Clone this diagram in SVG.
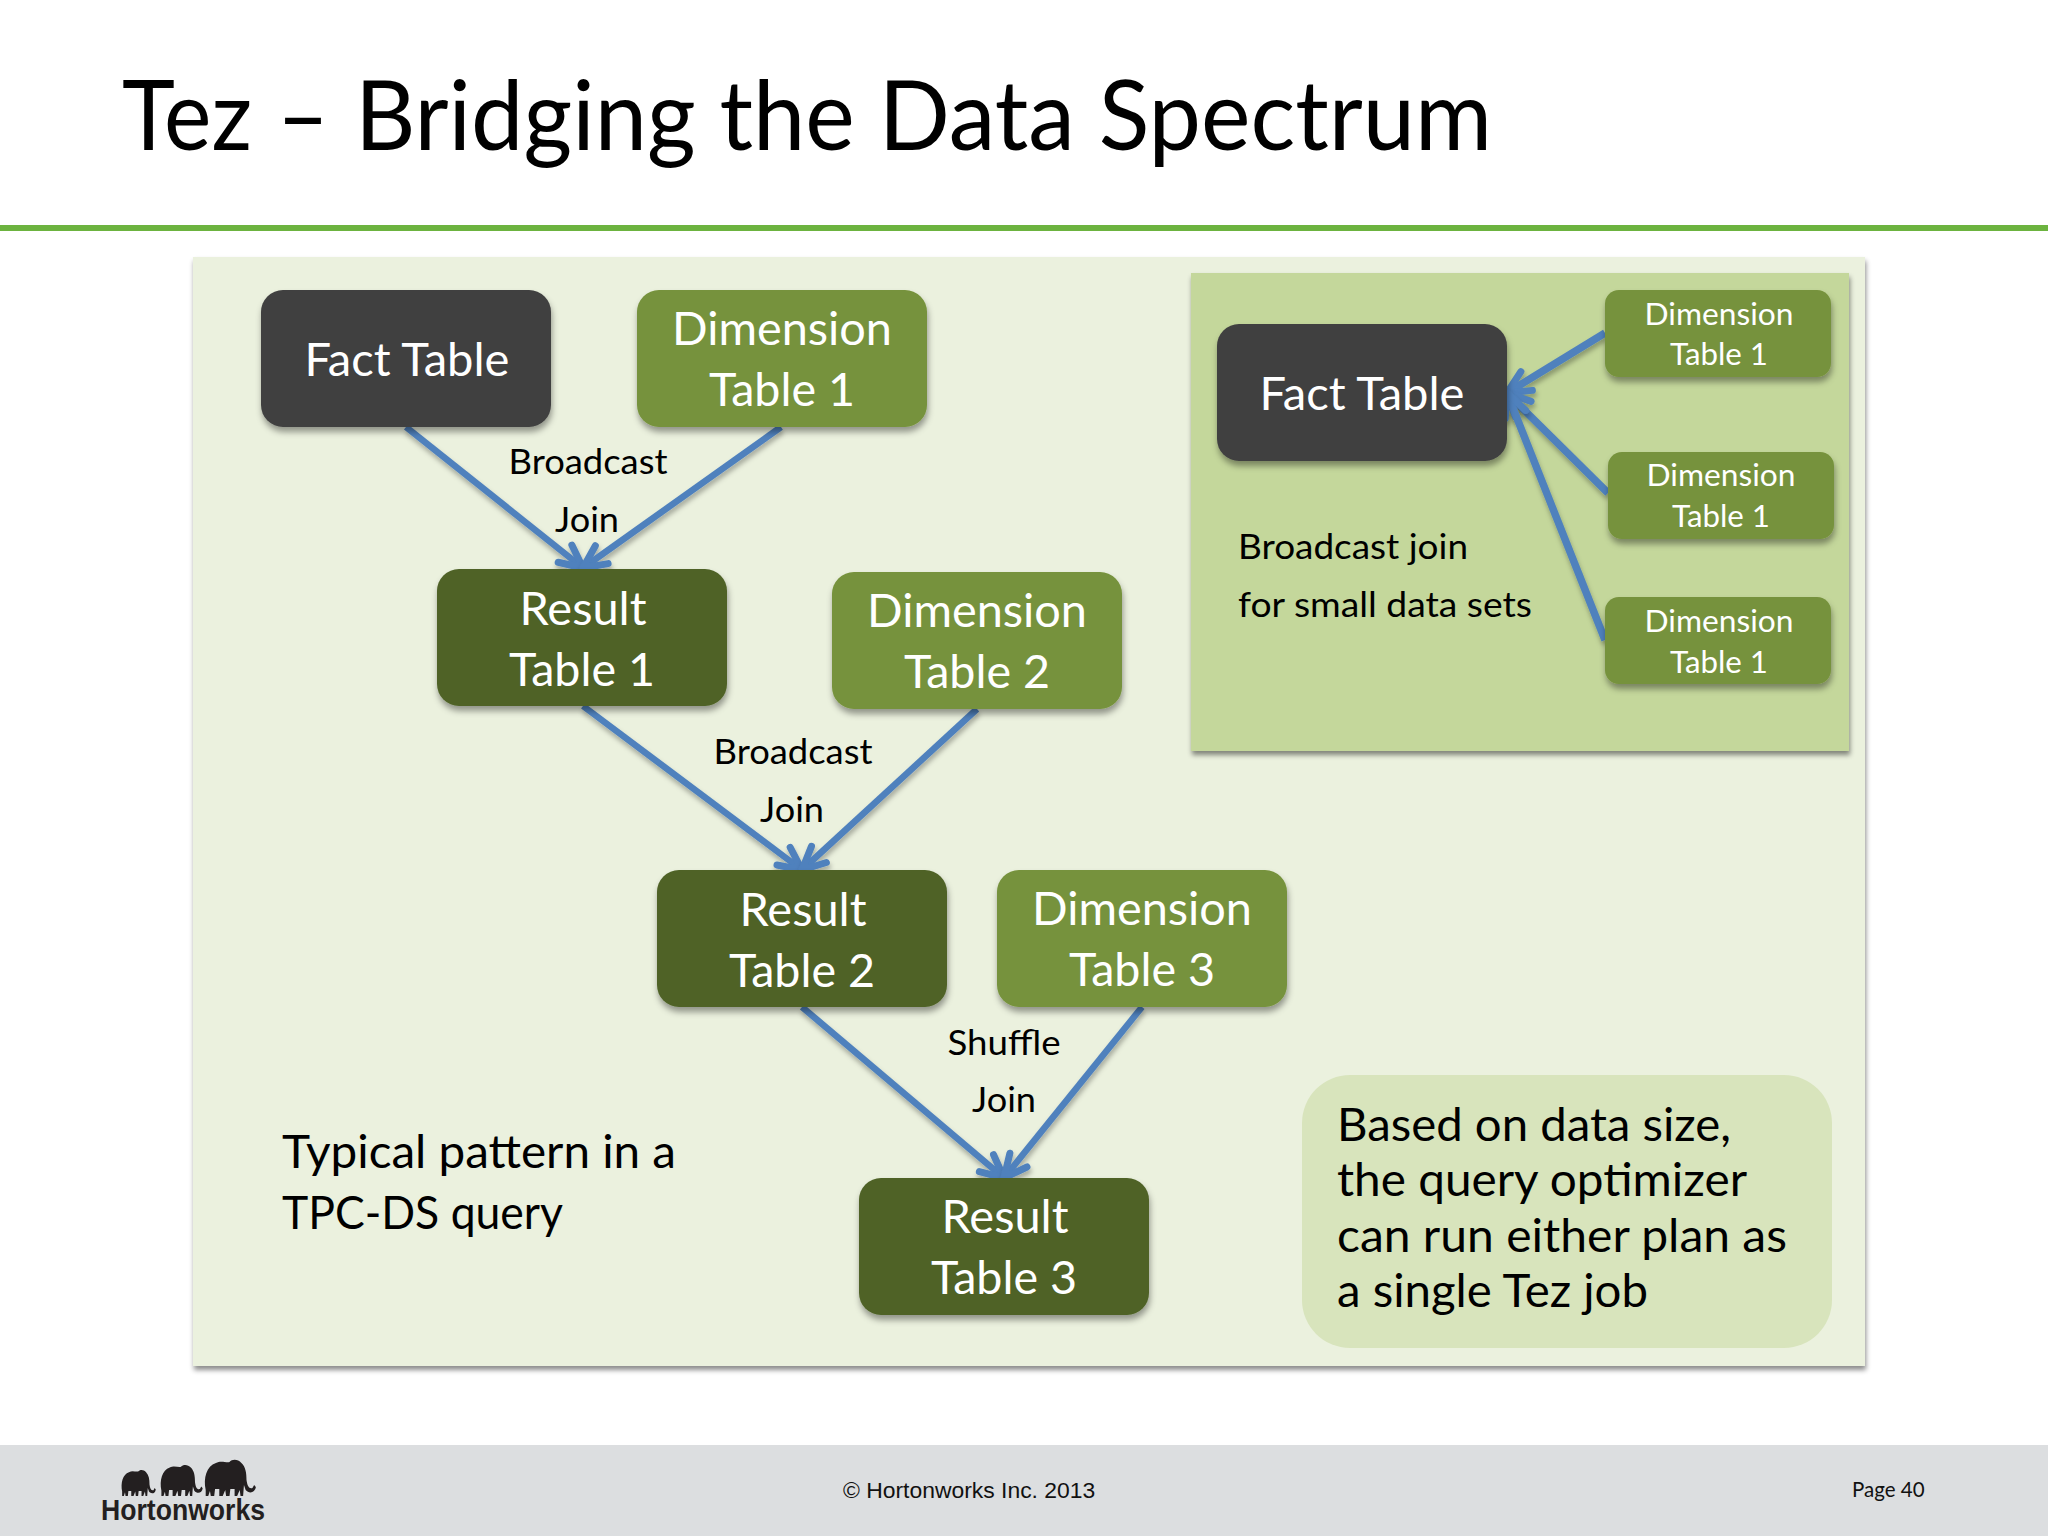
<svg xmlns="http://www.w3.org/2000/svg" xmlns:xlink="http://www.w3.org/1999/xlink" width="2048" height="1536" viewBox="0 0 2048 1536">
<style>
text{font-family:"Lato","Carlito","Open Sans",sans-serif}
.c{text-anchor:middle}
.w{fill:#fff}
.k{fill:#000}
.big{font-size:45.5px}
.mid{font-size:34.5px}
.sm{font-size:30.5px}
.fact{fill:#404040}
.dim{fill:#76923c}
.res{fill:#4f6228}
.edge{fill:none;stroke:#4f81bd;stroke-width:6.5;marker-end:url(#arrow)}
.thick{stroke-width:7.5}
</style>
<defs>
<filter id="sh" x="-10%" y="-10%" width="120%" height="125%"><feDropShadow dx="1" dy="5" stdDeviation="3" flood-color="#000" flood-opacity="0.38"/></filter>
<filter id="lsh" x="-15%" y="-15%" width="130%" height="130%"><feDropShadow dx="1" dy="4" stdDeviation="2.5" flood-color="#000" flood-opacity="0.3"/></filter>
<filter id="panel" x="-2%" y="-2%" width="104%" height="104%"><feDropShadow dx="1" dy="4" stdDeviation="2.5" flood-color="#000" flood-opacity="0.45"/></filter>
<marker id="arrow" markerUnits="userSpaceOnUse" viewBox="-32 -20 36 40" refX="0" refY="0" markerWidth="36" markerHeight="40" orient="auto">
<path d="M-23 -11 L0 0 L-23 11" fill="none" stroke="#4f81bd" stroke-width="7" stroke-linecap="round" stroke-linejoin="round"/>
</marker>
<path id="eleph" d="M2 30 C-1 18 3 6 14 3 C20 0 26 3 30 2 C33 -1 40 -1 44 3 C49 7 50 13 50 20 C51 26 53 29 57 28 L59 25 L61 27 C60 33 53 34 49 30 L47 25 L46 36 L43 36 L42 30 L39 36 L36 36 L36 29 L31 29 L30 36 L26 36 L25 30 L22 36 L18 36 L18 29 L13 29 L12 36 L8 36 L7 31 L5 36 L2 36 Z"/>
</defs>
<rect width="2048" height="1536" fill="#fff"/>
<g id="title"><text y="150" font-size="96px" fill="#000" lengthAdjust="spacingAndGlyphs"><tspan x="122" textLength="130" lengthAdjust="spacingAndGlyphs">Tez</tspan> <tspan x="277" textLength="52" lengthAdjust="spacingAndGlyphs">–</tspan> <tspan x="355" textLength="1137" lengthAdjust="spacingAndGlyphs">Bridging the Data Spectrum</tspan></text></g>
<rect id="rule" x="0" y="225" width="2048" height="6" fill="#6cb33f"/>
<rect id="panel-main" x="193" y="257" width="1672" height="1109" fill="#ebf1de" filter="url(#panel)"/>
<rect id="panel-inset" x="1191" y="273" width="658" height="478" fill="#c4d79b" filter="url(#panel)"/>
<g id="footer">
<rect x="0" y="1445" width="2048" height="91" fill="#dcdee0"/>
<g id="logo" fill="#231f20">
<use xlink:href="#eleph" transform="translate(121,1470) scale(0.57,0.72)"/>
<use xlink:href="#eleph" transform="translate(160,1465) scale(0.7,0.86)"/>
<use xlink:href="#eleph" transform="translate(204,1460) scale(0.85,1)"/>
<text x="101" y="1520" font-size="29px" font-weight="700" style="font-family:'Liberation Sans',sans-serif" textLength="164" lengthAdjust="spacingAndGlyphs">Hortonworks</text>
</g>
<text x="843" y="1498" font-size="22.9px" fill="#111" style="font-family:'Liberation Sans',sans-serif">© Hortonworks Inc. 2013</text>
<text x="1852" y="1497" font-size="20.5px" fill="#111">Page 40</text>
</g>
<g id="connectors">
<path class="edge" filter="url(#lsh)" d="M406 427L583 568"/>
<path class="edge" filter="url(#lsh)" d="M781 427L583 568"/>
<path class="edge" filter="url(#lsh)" d="M583 706L802 870"/>
<path class="edge" filter="url(#lsh)" d="M977 709L802 870"/>
<path class="edge" filter="url(#lsh)" d="M802 1007L1004 1178"/>
<path class="edge" filter="url(#lsh)" d="M1142 1007L1004 1178"/>
<path class="edge thick" filter="url(#lsh)" d="M1605 333L1507 393"/>
<path class="edge thick" filter="url(#lsh)" d="M1608 493L1507 393"/>
<path class="edge thick" filter="url(#lsh)" d="M1605 640L1507 393"/>
</g>
<g id="fact-1"><rect class="fact" x="261" y="290" width="290" height="137" rx="22" filter="url(#sh)"/><text class="c w big" x="407" y="376" textLength="205" lengthAdjust="spacingAndGlyphs">Fact Table</text></g>
<g id="dim-1"><rect class="dim" x="637" y="290" width="290" height="137" rx="22" filter="url(#sh)"/><text class="c w big" x="782" y="345" textLength="220" lengthAdjust="spacingAndGlyphs">Dimension</text><text class="c w big" x="782" y="406" textLength="146" lengthAdjust="spacingAndGlyphs">Table 1</text></g>
<g id="result-1"><rect class="res" x="437" y="569" width="290" height="137" rx="22" filter="url(#sh)"/><text class="c w big" x="583" y="625" textLength="127" lengthAdjust="spacingAndGlyphs">Result</text><text class="c w big" x="582" y="686" textLength="146" lengthAdjust="spacingAndGlyphs">Table 1</text></g>
<g id="dim-2"><rect class="dim" x="832" y="572" width="290" height="137" rx="22" filter="url(#sh)"/><text class="c w big" x="977" y="627" textLength="220" lengthAdjust="spacingAndGlyphs">Dimension</text><text class="c w big" x="977" y="688" textLength="146" lengthAdjust="spacingAndGlyphs">Table 2</text></g>
<g id="result-2"><rect class="res" x="657" y="870" width="290" height="137" rx="22" filter="url(#sh)"/><text class="c w big" x="803" y="926" textLength="127" lengthAdjust="spacingAndGlyphs">Result</text><text class="c w big" x="802" y="987" textLength="146" lengthAdjust="spacingAndGlyphs">Table 2</text></g>
<g id="dim-3"><rect class="dim" x="997" y="870" width="290" height="137" rx="22" filter="url(#sh)"/><text class="c w big" x="1142" y="925" textLength="220" lengthAdjust="spacingAndGlyphs">Dimension</text><text class="c w big" x="1142" y="986" textLength="146" lengthAdjust="spacingAndGlyphs">Table 3</text></g>
<g id="result-3"><rect class="res" x="859" y="1178" width="290" height="137" rx="22" filter="url(#sh)"/><text class="c w big" x="1005" y="1233" textLength="127" lengthAdjust="spacingAndGlyphs">Result</text><text class="c w big" x="1004" y="1294" textLength="146" lengthAdjust="spacingAndGlyphs">Table 3</text></g>
<g id="inset-fact"><rect class="fact" x="1217" y="324" width="290" height="137" rx="22" filter="url(#sh)"/><text class="c w big" x="1362" y="410" textLength="205" lengthAdjust="spacingAndGlyphs">Fact Table</text></g>
<g id="inset-dim-a"><rect class="dim" x="1605" y="290" width="226" height="87" rx="14" filter="url(#sh)"/><text class="c w sm" x="1719" y="325" textLength="149" lengthAdjust="spacingAndGlyphs">Dimension</text><text class="c w sm" x="1719" y="365" textLength="98" lengthAdjust="spacingAndGlyphs">Table 1</text></g>
<g id="inset-dim-b"><rect class="dim" x="1608" y="452" width="226" height="87" rx="14" filter="url(#sh)"/><text class="c w sm" x="1721" y="486" textLength="149" lengthAdjust="spacingAndGlyphs">Dimension</text><text class="c w sm" x="1721" y="527" textLength="98" lengthAdjust="spacingAndGlyphs">Table 1</text></g>
<g id="inset-dim-c"><rect class="dim" x="1605" y="597" width="226" height="87" rx="14" filter="url(#sh)"/><text class="c w sm" x="1719" y="632" textLength="149" lengthAdjust="spacingAndGlyphs">Dimension</text><text class="c w sm" x="1719" y="673" textLength="98" lengthAdjust="spacingAndGlyphs">Table 1</text></g>
<g id="labels">
<text class="c k mid" x="588" y="474" textLength="159" lengthAdjust="spacingAndGlyphs">Broadcast</text><text class="c k mid" x="587" y="532" textLength="64" lengthAdjust="spacingAndGlyphs">Join</text>
<text class="c k mid" x="793" y="764" textLength="159" lengthAdjust="spacingAndGlyphs">Broadcast</text><text class="c k mid" x="792" y="822" textLength="64" lengthAdjust="spacingAndGlyphs">Join</text>
<text class="c k mid" x="1004" y="1055" textLength="113" lengthAdjust="spacingAndGlyphs">Shuffle</text><text class="c k mid" x="1004" y="1112" textLength="64" lengthAdjust="spacingAndGlyphs">Join</text>
<text class="k mid" x="1238" y="559" textLength="230" lengthAdjust="spacingAndGlyphs">Broadcast join</text><text class="k mid" x="1238" y="617" textLength="294" lengthAdjust="spacingAndGlyphs">for small data sets</text>
<text class="k big" x="282" y="1168" textLength="394" lengthAdjust="spacingAndGlyphs">Typical pattern in a</text><text class="k big" x="282" y="1229" textLength="281" lengthAdjust="spacingAndGlyphs">TPC-DS query</text>
</g>
<g id="callout"><rect x="1302" y="1075" width="530" height="273" rx="48" fill="#d8e4bc"/>
<text class="k big" x="1337" y="1141" textLength="394" lengthAdjust="spacingAndGlyphs">Based on data size,</text><text class="k big" x="1337" y="1196" textLength="410" lengthAdjust="spacingAndGlyphs">the query optimizer</text><text class="k big" x="1337" y="1252" textLength="450" lengthAdjust="spacingAndGlyphs">can run either plan as</text><text class="k big" x="1337" y="1307" textLength="311" lengthAdjust="spacingAndGlyphs">a single Tez job</text></g>
</svg>
